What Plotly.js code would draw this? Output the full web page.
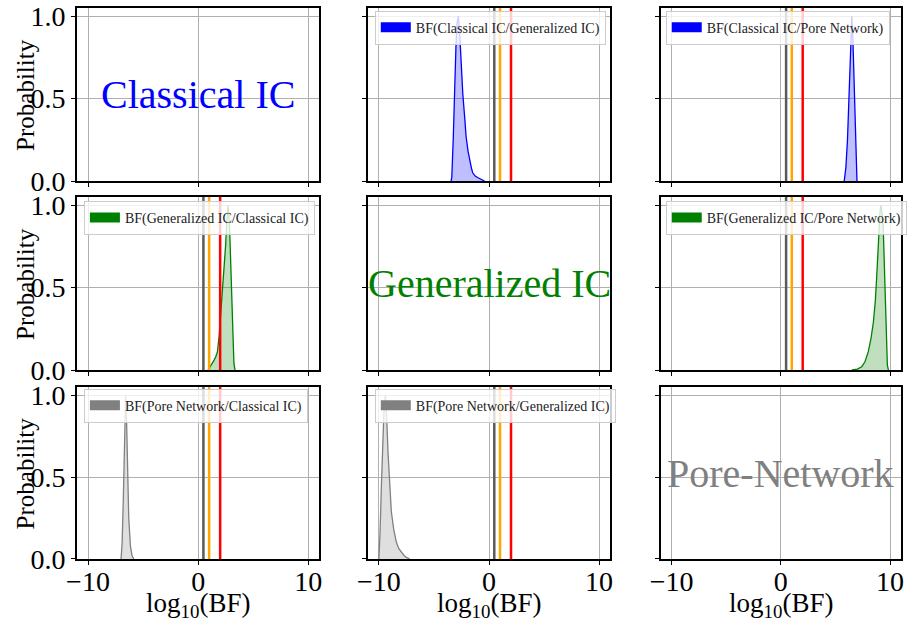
<!DOCTYPE html>
<html><head><meta charset="utf-8">
<script src="https://cdn.plot.ly/plotly-3.0.1.min.js"></script>
<style>html,body{margin:0;padding:0;background:#fff}</style>
</head><body><div id="chart" style="width:910px;height:624px"></div>
<script>
// ---- data ----
const models = ["Classical IC", "Generalized IC", "Pore-Network"];
const modelColors = ["blue", "green", "gray"];
const fillColors = ["rgba(0,0,255,0.25)", "rgba(0,128,0,0.25)", "rgba(128,128,128,0.25)"];
const thresholds = [0.48, 1, 2];
const thresholdColors = ["#5a5a5a", "orange", "red"];
const xTickVals = [-10, 0, 10];
const xTickText = ["\u221210", "0", "10"];
const yTickVals = [0, 0.5, 1];
const yTickText = ["0.0", "0.5", "1.0"];
const xTitle = "log<sub>10</sub>(BF)";
const yTitle = "Probability";

// BF(Classical IC/Generalized IC)
const cg_x = [-3.45, -3.38, -3.25, -3.14, -3.0, -2.9, -2.78, -2.65, -2.5, -2.38, -2.2, -2.08, -1.9, -1.78, -1.6, -1.48, -1.25, -1.0, -0.7, -0.4];
const cg_y = [0, 0.02, 0.25, 0.54, 0.82, 0.96, 1.0, 0.88, 0.68, 0.53, 0.38, 0.27, 0.18, 0.13, 0.08, 0.05, 0.03, 0.02, 0.01, 0];
// BF(Classical IC/Pore Network)
const cp_x = [5.8, 5.95, 6.1, 6.25, 6.4, 6.5, 6.6, 6.73, 6.85, 6.97];
const cp_y = [0, 0.08, 0.25, 0.5, 0.85, 1.0, 0.85, 0.5, 0.15, 0];
// BF(Generalized IC/Classical IC)
const gc_x = [0.9, 1.1, 1.3, 1.45, 1.6, 1.75, 1.9, 2.05, 2.2, 2.35, 2.5, 2.6, 2.73, 2.85, 2.95, 3.05, 3.15, 3.25, 3.35];
const gc_y = [0, 0.02, 0.04, 0.06, 0.08, 0.11, 0.2, 0.33, 0.46, 0.62, 0.76, 0.9, 1.0, 0.88, 0.66, 0.38, 0.15, 0.04, 0];
// BF(Generalized IC/Pore Network)
const gp_x = [6.5, 7.0, 7.4, 7.7, 8.0, 8.25, 8.47, 8.65, 8.77, 8.9, 8.98, 9.08, 9.16, 9.25, 9.37, 9.45, 9.52, 9.6, 9.67, 9.75, 9.85];
const gp_y = [0, 0.005, 0.02, 0.05, 0.11, 0.19, 0.29, 0.42, 0.56, 0.72, 0.87, 0.96, 1.0, 0.96, 0.87, 0.68, 0.46, 0.25, 0.11, 0.03, 0];
// BF(Pore Network/Classical IC)
const pc_x = [-7.0, -6.9, -6.8, -6.72, -6.65, -6.58, -6.5, -6.42, -6.3, -6.15, -6.0, -5.85];
const pc_y = [0, 0.1, 0.35, 0.65, 0.9, 1.0, 0.85, 0.55, 0.25, 0.08, 0.02, 0];
// BF(Pore Network/Generalized IC)
const pg_x = [-10.0, -9.9, -9.77, -9.65, -9.52, -9.41, -9.3, -9.17, -9.02, -8.87, -8.65, -8.42, -8.2, -7.96, -7.7, -7.5, -7.2];
const pg_y = [0, 0.15, 0.45, 0.75, 0.94, 1.0, 0.88, 0.65, 0.45, 0.29, 0.18, 0.105, 0.065, 0.04, 0.02, 0.01, 0];

const panelRows = [0, 0, 1, 1, 2, 2];
const panelCols = [1, 2, 0, 2, 0, 1];
const panelX = [cg_x, cp_x, gc_x, gp_x, pc_x, pg_x];
const panelY = [cg_y, cp_y, gc_y, gp_y, pc_y, pg_y];
const panelLabels = ["BF(Classical IC/Generalized IC)", "BF(Classical IC/Pore Network)",
  "BF(Generalized IC/Classical IC)", "BF(Generalized IC/Pore Network)",
  "BF(Pore Network/Classical IC)", "BF(Pore Network/Generalized IC)"];

// ---- layout geometry ----
const FONT = "Liberation Serif, Times New Roman, serif";
const colDomains = [[0, 0.294], [0.353, 0.647], [0.7084, 1]];
const rowDomains = [[0.686, 1], [0.343, 0.657], [0, 0.312]];
const legendPos = {"0,1": [0.3614, 0.995], "0,2": [0.7145, 0.995], "1,0": [0.0084, 0.650],
  "1,2": [0.7145, 0.650], "2,0": [0.0084, 0.309], "2,1": [0.3614, 0.309]};

const layout = {
  width: 910, height: 624,
  margin: {l: 77, r: 3, t: 8, b: 65},
  paper_bgcolor: "white", plot_bgcolor: "white",
  font: {family: FONT, color: "black"},
  showlegend: true,
  shapes: [], annotations: []
};
const traces = [];

for (let r = 0; r < 3; r++) {
  for (let c = 0; c < 3; c++) {
    const k = r * 3 + c + 1;
    const sx = k === 1 ? "" : String(k);
    layout["xaxis" + sx] = {
      domain: colDomains[c], range: [-11, 11], anchor: "y" + sx,
      tickvals: xTickVals, ticktext: xTickText, showticklabels: r === 2,
      ticks: "outside", ticklen: 4, tickwidth: 1, tickcolor: "black",
      ticklabelstandoff: -8,
      showgrid: true, gridcolor: "#b0b0b0", gridwidth: 1, zeroline: false,
      showline: true, linecolor: "black", linewidth: 2, mirror: true,
      tickfont: {size: 28, family: FONT},
      title: {text: ""}
    };
    layout["yaxis" + sx] = {
      domain: rowDomains[r], range: [0, 1.05], anchor: "x" + sx,
      tickvals: yTickVals, ticktext: yTickText, showticklabels: c === 0,
      ticks: "outside", ticklen: 4, tickwidth: 1, tickcolor: "black",
      showgrid: true, gridcolor: "#b0b0b0", gridwidth: 1, zeroline: false,
      showline: true, linecolor: "black", linewidth: 2, mirror: true,
      tickfont: {size: 28, family: FONT},
      title: {text: ""}
    };
    if (c === 0) {
      layout.annotations.push({
        xref: "x" + sx + " domain", yref: "y" + sx + " domain", x: -0.213, y: 0.5,
        xanchor: "center", yanchor: "middle", textangle: -90,
        text: yTitle, showarrow: false, font: {size: 25, family: FONT, color: "black"}
      });
    }
    if (r === 2) {
      layout.annotations.push({
        xref: "x" + sx + " domain", yref: "y" + sx + " domain", x: 0.5, y: -0.267,
        xanchor: "center", yanchor: "middle",
        text: xTitle, showarrow: false, font: {size: 27, family: FONT, color: "black"}
      });
    }
    if (r === c) {
      traces.push({type: "scatter", mode: "lines", x: [null], y: [null],
        xaxis: "x" + sx, yaxis: "y" + sx, showlegend: false, hoverinfo: "skip"});
      layout.annotations.push({
        xref: "x" + sx + " domain", yref: "y" + sx + " domain", x: 0.5, y: 0.5,
        xanchor: "center", yanchor: "middle",
        text: models[r], showarrow: false,
        font: {size: 40, family: FONT, color: modelColors[r]}
      });
    }
  }
}

for (let i = 0; i < panelX.length; i++) {
  const r = panelRows[i], c = panelCols[i];
  const k = r * 3 + c + 1;
  const sx = k === 1 ? "" : String(k);
  const lg = i === 0 ? "legend" : "legend" + (i + 1);
  traces.push({
    type: "scatter", mode: "lines", x: panelX[i], y: panelY[i],
    xaxis: "x" + sx, yaxis: "y" + sx, fill: "tozeroy",
    fillcolor: fillColors[r], line: {color: modelColors[r], width: 1.3},
    showlegend: false, hoverinfo: "skip"
  });
  traces.push({
    type: "scatter", mode: "lines", x: [null], y: [null],
    xaxis: "x" + sx, yaxis: "y" + sx, name: panelLabels[i],
    line: {color: modelColors[r], width: 10}, legend: lg, showlegend: true
  });
  const pos = legendPos[r + "," + c];
  layout[lg] = {
    x: pos[0], y: pos[1], xanchor: "left", yanchor: "top",
    xref: "paper", yref: "paper",
    bgcolor: "rgba(255,255,255,0.8)", bordercolor: "#cccccc", borderwidth: 1,
    font: {size: 14, family: FONT, color: "#222"},
    itemwidth: 30, tracegroupgap: 0
  };
  for (let j = 0; j < thresholds.length; j++) {
    layout.shapes.push({
      type: "line", xref: "x" + sx, yref: "y" + sx + " domain",
      x0: thresholds[j], x1: thresholds[j], y0: 0, y1: 1,
      line: {color: thresholdColors[j], width: 2.5}, layer: "above"
    });
  }
}

Plotly.newPlot("chart", traces, layout, {displayModeBar: false, staticPlot: true});
</script></body></html>
